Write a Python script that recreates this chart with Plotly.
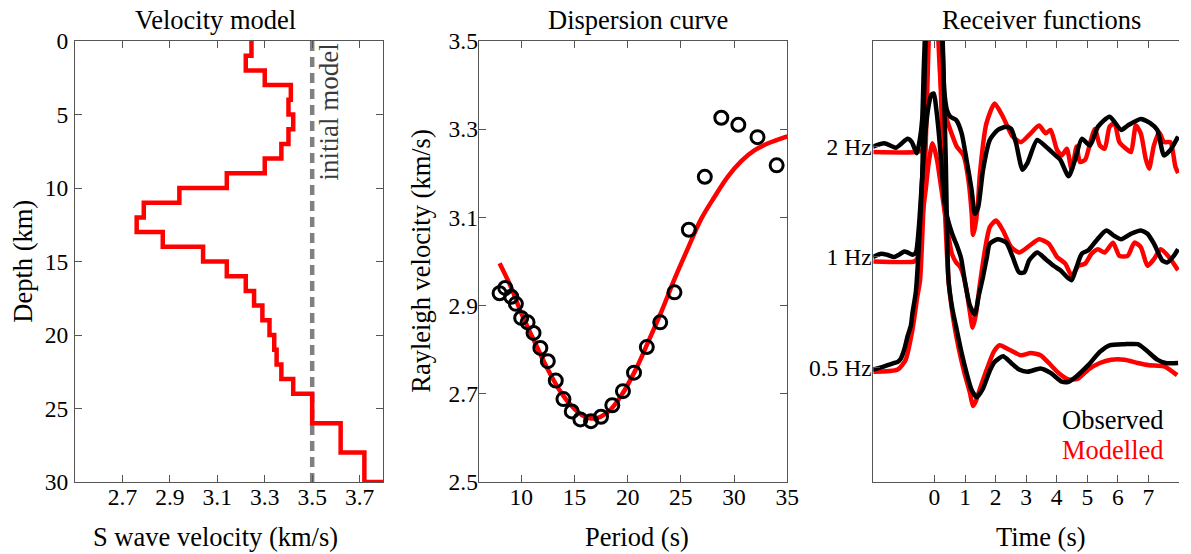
import plotly.graph_objects as go

FONT = 'Liberation Serif'

# ---- velocity model (layer tops in km, S velocity in km/s) ----
layer_top = [0, 1, 2, 3, 4, 5, 6, 7, 8, 9, 10, 11, 12, 13, 14, 15, 16, 17, 18, 19,
             20, 21, 22, 23, 24, 26, 28, 30]
vs_model = [3.244, 3.22, 3.30, 3.41, 3.40, 3.42, 3.40, 3.37, 3.30, 3.14, 2.94, 2.79,
            2.76, 2.87, 3.04, 3.14, 3.22, 3.255, 3.29, 3.32, 3.34, 3.35, 3.37, 3.42,
            3.50, 3.62, 3.72, 3.80]
vs_initial = 3.5

# ---- dispersion curve ----
obs_period = [7.97, 8.5, 9.06, 9.5, 10.0, 10.6, 11.16, 11.8, 12.5, 13.25, 13.97, 14.75,
              15.56, 16.56, 17.5, 18.56, 19.56, 20.6, 21.8, 23.06, 24.4, 25.75, 27.25,
              28.8, 30.4, 32.2, 34.0]
obs_vel = [2.928, 2.94, 2.92, 2.904, 2.872, 2.862, 2.838, 2.804, 2.774, 2.73, 2.688, 2.66,
           2.642, 2.638, 2.648, 2.674, 2.706, 2.748, 2.806, 2.862, 2.93, 3.072, 3.192,
           3.326, 3.31, 3.282, 3.218]
mod_period = [7.97, 9.0, 10.06, 11.3, 12.4, 13.5, 14.6, 15.7, 16.9, 18.2, 19.4, 20.7,
              21.9, 23.2, 24.4, 25.7, 26.9, 28.2, 29.4, 30.7, 31.9, 33.2, 35.0]
mod_vel = [2.996, 2.944, 2.88, 2.816, 2.76, 2.712, 2.676, 2.652, 2.644, 2.66, 2.696, 2.752,
           2.816, 2.888, 2.96, 3.032, 3.096, 3.148, 3.192, 3.228, 3.252, 3.268, 3.284]

# ---- receiver functions (time in s, amplitude relative to trace offset) ----
rf_labels = ['0.5 Hz', '1 Hz', '2 Hz']
rf_offsets = [0, 1, 2]

obs2_t = [-2.01, -1.64, -1.26, -0.88, -0.74, -0.58, -0.48, -0.40, -0.35, -0.29, -0.19, -0.06,
          0.06, 0.19, 0.26, 0.32, 0.41, 0.52, 0.71, 0.89, 1.05, 1.22, 1.32, 1.43, 1.59, 1.81,
          2.07, 2.35, 2.51, 2.67, 2.88, 3.04, 3.36, 3.64, 3.96, 4.12, 4.39, 4.60, 4.82, 5.09,
          5.35, 5.73, 6.11, 6.32, 6.75, 7.07, 7.29, 7.51, 7.72, 7.97]
obs2_a = [0.00, 0.03, -0.01, 0.07, 0.04, -0.06, 0.06, 0.25, 0.70, 1.14, 1.69, 1.96,
          1.87, 1.41, 0.96, 0.51, 0.33, 0.27, 0.24, 0.12, -0.12, -0.40, -0.61, -0.55, -0.21, 0.06,
          0.15, 0.18, 0.16, 0.03, -0.21, -0.15, 0.06, 0.00, -0.08, -0.12, -0.27, -0.12, 0.07, 0.01,
          0.18, 0.27, 0.15, 0.19, 0.25, 0.21, 0.15, -0.08, -0.03, 0.09]
mod2_t = [-2.0, -0.6, -0.39, -0.32, -0.26, -0.21, -0.13, -0.03, 0.06, 0.13, 0.21, 0.35, 0.52,
          0.73, 0.95, 1.11, 1.22, 1.26, 1.32, 1.42, 1.48, 1.70, 1.97, 2.24, 2.56, 2.83, 3.15,
          3.42, 3.64, 3.80, 4.01, 4.17, 4.33, 4.49, 4.65, 4.76, 4.93, 5.09, 5.25, 5.41, 5.57,
          5.73, 5.89, 6.05, 6.27, 6.43, 6.59, 6.75, 6.91, 7.02, 7.18, 7.35, 7.51, 7.72, 7.88, 7.97]
mod2_a = [-0.05, -0.05, -0.03, 0.15, 0.51, 0.96, 1.59, 1.86, 1.50, 0.96, 0.55, 0.30, 0.15,
          0.00, -0.08, -0.30, -0.61, -0.80, -0.74, -0.53, -0.27, 0.21, 0.39, 0.27, 0.09, 0.04, 0.12,
          0.19, 0.12, 0.15, -0.03, -0.08, -0.02, -0.21, 0.00, -0.14, -0.12, 0.03, 0.16, 0.01, -0.02,
          0.18, 0.21, 0.04, -0.02, -0.05, 0.19, 0.12, -0.11, -0.20, 0.01, 0.13, 0.04, 0.04, -0.18, -0.24]

obs1_t = [-2.01, -1.74, -1.55, -1.31, -1.16, -0.99, -0.87, -0.72, -0.61, -0.51, -0.40, -0.29,
          -0.19, -0.10, -0.02, 0.06, 0.15, 0.23, 0.32, 0.42, 0.52, 0.62, 0.74, 0.87, 1.00, 1.16,
          1.32, 1.45, 1.58, 1.71, 1.81, 2.07, 2.35, 2.56, 2.77, 2.94, 3.10, 3.36, 3.64, 3.90,
          4.12, 4.33, 4.49, 4.65, 4.82, 5.03, 5.30, 5.62, 5.89, 6.11, 6.43, 6.75, 6.97, 7.18,
          7.45, 7.61, 7.83, 7.97]
obs1_a = [0.00, 0.03, 0.02, 0.00, 0.02, 0.05, 0.04, 0.02, 0.04, 0.27, 0.72, 1.14,
          1.37, 1.47, 1.48, 1.34, 1.10, 0.83, 0.51, 0.36, 0.26, 0.18, 0.10, -0.01, -0.23, -0.44,
          -0.52, -0.35, -0.19, -0.01, 0.12, 0.16, 0.13, 0.00, -0.14, -0.14, -0.03, 0.04, -0.02, -0.08,
          -0.12, -0.18, -0.21, -0.09, 0.03, 0.06, 0.15, 0.24, 0.19, 0.16, 0.21, 0.24, 0.21, 0.12,
          -0.03, -0.05, 0.01, 0.07]
mod1_t = [-2.0, -0.65, -0.56, -0.48, -0.39, -0.29, -0.19, -0.07, 0.00, 0.09, 0.25, 0.41, 0.57,
          0.71, 0.84, 0.97, 1.05, 1.16, 1.25, 1.35, 1.48, 1.65, 1.81, 2.02, 2.24, 2.51, 2.77,
          3.10, 3.42, 3.74, 4.01, 4.28, 4.49, 4.71, 4.93, 5.14, 5.35, 5.57, 5.84, 6.05, 6.32,
          6.54, 6.75, 6.97, 7.18, 7.40, 7.67, 7.97]
mod1_a = [-0.04, -0.04, -0.01, 0.10, 0.38, 0.60, 0.85, 1.03, 0.98, 0.87, 0.57, 0.27, 0.03,
          -0.05, -0.09, -0.19, -0.30, -0.50, -0.64, -0.53, -0.26, 0.06, 0.27, 0.33, 0.24, 0.09, 0.04,
          0.10, 0.16, 0.12, 0.00, -0.06, -0.17, -0.08, -0.06, 0.03, 0.07, 0.04, 0.13, 0.01, 0.01,
          0.13, 0.09, -0.08, -0.02, 0.07, 0.00, -0.12]

obs05_t = [-2.01, -1.74, -1.53, -1.31, -1.20, -1.10, -0.99, -0.88, -0.77, -0.72, -0.61, -0.51,
           -0.40, -0.35, -0.29, -0.21, 0.00, 0.19, 0.27, 0.37, 0.46, 0.58, 0.73, 0.89, 1.05,
           1.21, 1.38, 1.59, 1.81, 1.97, 2.24, 2.51, 2.77, 3.04, 3.47, 3.80, 4.17, 4.39, 4.65,
           5.03, 5.41, 5.73, 6.22, 6.65, 6.91, 7.29, 7.56, 7.97]
obs05_a = [-0.02, 0.00, 0.02, 0.04, 0.05, 0.08, 0.16, 0.28, 0.38, 0.49, 0.68, 1.09,
           1.72, 2.36, 2.94, 3.59, 4.32, 3.59, 2.96, 1.88, 0.79, 0.54, 0.34, 0.13, -0.05,
           -0.20, -0.27, -0.19, -0.03, 0.05, 0.10, 0.04, -0.02, -0.04, -0.01, -0.05, -0.13, -0.13, -0.08,
           0.02, 0.14, 0.20, 0.21, 0.21, 0.16, 0.07, 0.04, 0.04]
mod05_t = [-2.0, -1.20, -0.94, -0.72, -0.56, -0.47, -0.39, -0.29, -0.19, -0.10, 0.00, 0.10,
           0.16, 0.26, 0.35, 0.46, 0.61, 0.78, 0.97, 1.16, 1.26, 1.35, 1.48, 1.75, 1.94, 2.13,
           2.45, 2.83, 3.15, 3.47, 3.74, 4.06, 4.39, 4.71, 5.03, 5.41, 5.78, 6.22, 6.65, 7.02,
           7.51, 7.94]
mod05_a = [-0.04, -0.02, 0.07, 0.34, 0.64, 0.79, 1.24, 1.97, 2.96, 3.77, 4.14, 3.68,
           2.96, 2.06, 1.38, 0.79, 0.45, 0.19, -0.04, -0.23, -0.35, -0.31, -0.20, 0.01, 0.14, 0.20,
           0.16, 0.11, 0.13, 0.11, 0.04, -0.05, -0.11, -0.10, -0.02, 0.04, 0.07, 0.07, 0.04, 0.02,
           0.01, -0.07]

fig = go.Figure()

# velocity model
fig.add_trace(go.Scatter(x=[vs_initial, vs_initial], y=[0, 30], mode='lines',
                         line=dict(color='#808080', width=4.5, dash='10px,6px'),
                         xaxis='x', yaxis='y'))
fig.add_trace(go.Scatter(x=vs_model, y=layer_top, mode='lines', line_shape='vh',
                         line=dict(color='#ff0000', width=4.5), xaxis='x', yaxis='y'))

# dispersion
fig.add_trace(go.Scatter(x=mod_period, y=mod_vel, mode='lines', line_shape='spline',
                         line=dict(color='#ff0000', width=4.5), xaxis='x2', yaxis='y2'))
fig.add_trace(go.Scatter(x=obs_period, y=obs_vel, mode='markers',
                         marker=dict(symbol='circle-open', size=13, color='black',
                                     line=dict(width=3, color='black')),
                         xaxis='x2', yaxis='y2'))

# receiver functions: modelled (red) then observed (black) on top
rf_mod = [(mod05_t, mod05_a), (mod1_t, mod1_a), (mod2_t, mod2_a)]
rf_obs = [(obs05_t, obs05_a), (obs1_t, obs1_a), (obs2_t, obs2_a)]
for (t, a), off in zip(rf_mod, rf_offsets):
    fig.add_trace(go.Scatter(x=t, y=[v + off for v in a], mode='lines', line_shape='spline',
                             line=dict(color='#ff0000', width=4.5, smoothing=0.6),
                             xaxis='x3', yaxis='y3'))
for (t, a), off in zip(rf_obs, rf_offsets):
    fig.add_trace(go.Scatter(x=t, y=[v + off for v in a], mode='lines', line_shape='spline',
                             line=dict(color='black', width=4.5, smoothing=0.6),
                             xaxis='x3', yaxis='y3'))

ax = dict(showline=True, linecolor='#555555', linewidth=1, ticks='inside', ticklen=7,
          tickcolor='#555555', mirror='ticks', showgrid=False, zeroline=False,
          tickfont=dict(family=FONT, size=23.5, color='black'))

fig.update_layout(
    width=1191, height=554, autosize=False,
    margin=dict(l=75, r=0, t=41, b=72),
    paper_bgcolor='white', plot_bgcolor='white',
    showlegend=False,
    font=dict(family=FONT, color='black'),
    xaxis=dict(ax, domain=[0, 0.2793], range=[2.5, 3.8], anchor='y',
               tickvals=[2.7, 2.9, 3.1, 3.3, 3.5, 3.7], ticklabelstandoff=-6),
    yaxis=dict(ax, domain=[0, 1], range=[30, 0], anchor='x',
               tickvals=[0, 5, 10, 15, 20, 25, 30], ticklabelstandoff=1),
    xaxis2=dict(ax, domain=[0.3656, 0.6452], range=[6, 35], anchor='y2',
                tickvals=[10, 15, 20, 25, 30, 35], ticklabelstandoff=-6),
    yaxis2=dict(ax, domain=[0, 1], range=[2.5, 3.5], anchor='x2',
                tickvals=[2.5, 2.7, 2.9, 3.1, 3.3, 3.5],
                ticktext=['2.5', '2.7', '2.9', '3.1', '3.3', '3.5'], ticklabelstandoff=-5),
    xaxis3=dict(ax, domain=[0.7231, 1.0], range=[-2, 8], anchor='y3',
                tickvals=[0, 1, 2, 3, 4, 5, 6, 7], ticklabelstandoff=-6),
    yaxis3=dict(ax, domain=[0, 1], range=[-1.038, 2.956], anchor='x3', mirror=False,
                tickvals=rf_offsets, ticktext=rf_labels, ticklabelstandoff=-4),
)

def label(text, x, y, size=26.5, angle=0, color='black', xanchor='center'):
    fig.add_annotation(text=text, x=x, y=y, xref='paper', yref='paper', showarrow=False,
                       textangle=angle, xanchor=xanchor, yanchor='middle',
                       font=dict(family=FONT, size=size, color=color))

label('Velocity model', 0.1277, 1.048)
label('Dispersion curve', 0.5099, 1.048)
label('Receiver functions', 0.8752, 1.048)
label('S wave velocity (km/s)', 0.1277, -0.1238)
label('Period (s)', 0.5092, -0.1238)
label('Time (s)', 0.8752, -0.1238)
label('Depth (km)', -0.0478, 0.5, angle=-90)
label('Rayleigh velocity (km/s)', 0.3127, 0.5, angle=-90)
label('initial model', 0.2303, 0.8384, size=27, angle=-90, color='#3a3a3a')
label('Observed', 0.988, 0.1399, xanchor='right')
label('Modelled', 0.988, 0.072, color='#ff0000', xanchor='right')

# the page body has a default 8px margin and may scroll; pin the figure to the window origin
fig.write_html('out.html',
               config={'displayModeBar': False, 'responsive': False},
               post_script="document.body.style.margin='0px';"
                           "document.body.style.overflow='hidden';")
